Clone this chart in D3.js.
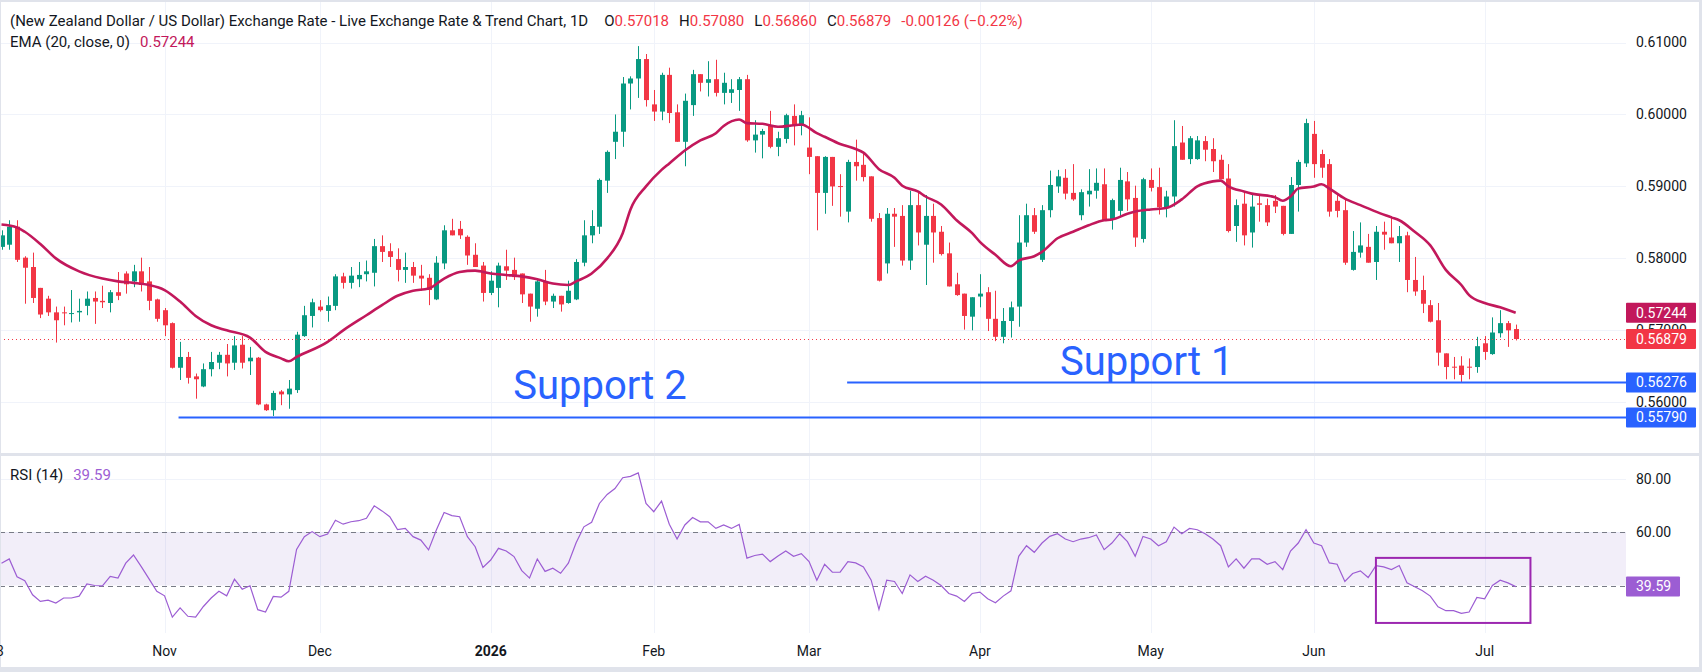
<!DOCTYPE html>
<html>
<head>
<meta charset="utf-8">
<script src="https://cdn.jsdelivr.net/npm/d3@7"></script>
<style>
  body { margin: 0; background: #fff; }
  svg { display: block; font-family: Roboto, "Noto Sans", sans-serif; }
</style>
</head>
<body>
<svg width="1702" height="672"></svg>
<script>
// NZD/USD daily candles, Oct 3 2025 .. Jul 7 2026
var open = [
  0.5816,0.5819,0.5844,0.5801,0.5788,0.5759,0.5744,0.5725,0.5725,0.5723,
  0.5725,0.5734,0.5745,0.5741,0.5738,0.5753,0.5779,0.5768,0.5782,0.5768,
  0.5743,0.5728,0.5710,0.5648,0.5663,0.5636,0.5622,0.5646,0.5655,0.5666,
  0.5655,0.5680,0.5657,0.5662,0.5597,0.5589,0.5615,0.5611,0.5617,0.5692,
  0.5720,0.5733,0.5727,0.5734,0.5775,0.5766,0.5771,0.5778,0.5780,0.5817,
  0.5810,0.5799,0.5784,0.5788,0.5776,0.5773,0.5743,0.5793,0.5839,0.5841,
  0.5830,0.5805,0.5790,0.5752,0.5759,0.5789,0.5784,0.5779,0.5751,0.5730,
  0.5768,0.5740,0.5748,0.5738,0.5743,0.5794,0.5832,0.5844,0.5908,0.5962,
  0.5976,0.6043,0.6050,0.6077,0.6014,0.6004,0.6055,0.6003,0.5962,0.6013,
  0.6056,0.6044,0.6049,0.6030,0.6030,0.6034,0.6049,0.5964,0.5972,0.5984,
  0.5955,0.5966,0.5998,0.5984,0.5954,0.5942,0.5891,0.5941,0.59005,0.5865,
  0.5934,0.5930,0.5914,0.5856,0.5793,0.5862,0.5859,0.5797,0.5874,0.5819,
  0.5859,0.5837,0.5807,0.5764,0.5751,0.5719,0.5747,0.5753,0.5716,0.5691,
  0.5713,0.5733,0.5822,0.5860,0.5798,0.5867,0.5900,0.5912,0.5891,0.5860,
  0.5889,0.5894,0.5903,0.5854,0.5866,0.5907,0.5884,0.5827,0.5909,0.5899,
  0.5870,0.5886,0.5961,0.5938,0.5938,0.5963,0.5952,0.5937,0.5911,0.5845,
  0.5876,0.5836,0.58765,0.5874,0.5880,0.5873,0.5834,0.5902,0.5932,0.5973,
  0.5945,0.5931,0.5880,0.5867,0.5784,0.5808,0.5816,0.5795,0.5837,0.5829,
  0.5821,0.5832,0.5770,0.5756,0.5735,0.5714,0.5668,0.56495,0.5651,0.56495,
  0.5649,0.5682,0.5667,0.5696,0.5710,0.57018
];
var high = [
  0.5839,0.5853,0.5853,0.5803,0.5808,0.5759,0.5748,0.5733,0.5733,0.5756,
  0.5744,0.5754,0.5754,0.5762,0.5756,0.5781,0.5782,0.5791,0.5801,0.5788,
  0.5744,0.5731,0.5711,0.5684,0.5670,0.5640,0.5654,0.5670,0.5670,0.5681,
  0.5692,0.5692,0.5677,0.5663,0.5598,0.5616,0.5617,0.5631,0.5698,0.5734,
  0.5744,0.5742,0.5747,0.5778,0.5780,0.5788,0.5795,0.5797,0.5827,0.5832,
  0.5821,0.5814,0.5808,0.5795,0.5791,0.5778,0.5803,0.5846,0.5855,0.5852,
  0.5832,0.5821,0.5795,0.5782,0.5794,0.5812,0.5801,0.5779,0.5751,0.5771,
  0.5784,0.5751,0.5748,0.5769,0.5799,0.5853,0.5867,0.5911,0.5950,0.6000,
  0.6052,0.6053,0.6095,0.6084,0.6034,0.6058,0.6065,0.6014,0.6029,0.6062,
  0.6056,0.6074,0.6076,0.6058,0.6049,0.6052,0.6055,0.5992,0.5980,0.6005,
  0.5976,0.6001,0.6014,0.6005,0.5996,0.5942,0.5942,0.5941,0.5917,0.5937,
  0.5965,0.5947,0.5914,0.5863,0.5870,0.5870,0.5874,0.5894,0.5891,0.5888,
  0.5876,0.5845,0.5822,0.5780,0.5751,0.5746,0.5778,0.5760,0.5755,0.5731,
  0.5740,0.5860,0.5876,0.5870,0.5874,0.5922,0.5923,0.5924,0.5931,0.5896,
  0.5924,0.5925,0.5925,0.5883,0.5926,0.5920,0.5901,0.5912,0.5925,0.5926,
  0.5894,0.5992,0.5984,0.5970,0.5970,0.5970,0.5967,0.5944,0.5931,0.5882,
  0.5892,0.5890,0.5888,0.5883,0.5888,0.5873,0.5913,0.5937,0.5994,0.5991,
  0.5951,0.5938,0.5888,0.5883,0.5838,0.5850,0.5834,0.5845,0.5851,0.5859,
  0.5845,0.5837,0.5802,0.5776,0.5742,0.5738,0.5668,0.5663,0.5664,0.5661,
  0.5691,0.5692,0.5718,0.5728,0.5713,0.5708
];
var low = [
  0.5812,0.5812,0.5795,0.5737,0.5738,0.5717,0.5720,0.5683,0.5707,0.5711,
  0.5712,0.5721,0.5709,0.5731,0.5725,0.5742,0.5751,0.5760,0.5754,0.5728,
  0.5712,0.5692,0.5647,0.5631,0.5626,0.5605,0.5621,0.5636,0.5646,0.5636,
  0.5645,0.5647,0.5638,0.5596,0.5588,0.5581,0.5596,0.5591,0.5613,0.5691,
  0.5704,0.5726,0.5712,0.5728,0.5758,0.5758,0.5760,0.5768,0.5761,0.5795,
  0.5788,0.5768,0.5766,0.5766,0.5755,0.5735,0.5742,0.5785,0.5832,0.5827,
  0.5791,0.5788,0.5740,0.5749,0.5732,0.5770,0.5770,0.5738,0.5712,0.5719,
  0.5735,0.5731,0.5726,0.5737,0.5742,0.5789,0.5821,0.5834,0.5891,0.5938,
  0.5955,0.6007,0.6023,0.6011,0.5991,0.5992,0.5988,0.5962,0.5928,0.5998,
  0.6032,0.6025,0.6025,0.6014,0.6016,0.6005,0.5962,0.5947,0.5939,0.5953,
  0.5942,0.5960,0.5957,0.5971,0.5917,0.5839,0.5862,0.5873,0.5858,0.5850,
  0.5908,0.5907,0.5851,0.5768,0.5779,0.5816,0.5790,0.5784,0.5818,0.5763,
  0.5794,0.5804,0.5761,0.5748,0.5701,0.5700,0.5732,0.5699,0.5685,0.5682,
  0.5690,0.5705,0.5816,0.5834,0.5795,0.5857,0.5891,0.5882,0.5880,0.5853,
  0.5872,0.5883,0.5853,0.5840,0.5859,0.5866,0.5816,0.5822,0.5893,0.5861,
  0.5857,0.5872,0.5937,0.5931,0.5937,0.5935,0.5920,0.5910,0.5836,0.5823,
  0.5818,0.5815,0.5851,0.5845,0.5863,0.5832,0.5834,0.5865,0.5927,0.5912,
  0.5912,0.5858,0.5857,0.5791,0.5783,0.5801,0.5794,0.5770,0.5812,0.5821,
  0.5795,0.5753,0.5748,0.5724,0.5711,0.5651,0.5632,0.5632,0.5628,0.5632,
  0.5641,0.5659,0.5666,0.5690,0.5677,0.5686
];
var close = [
  0.5832,0.5844,0.5798,0.5787,0.5745,0.5722,0.5725,0.5714,0.5724,0.5724,
  0.5727,0.5744,0.5740,0.5739,0.5753,0.5748,0.5764,0.5782,0.5763,0.5741,
  0.5716,0.5707,0.5648,0.5663,0.5634,0.5632,0.5646,0.5656,0.5666,0.5654,
  0.5679,0.5655,0.5662,0.5597,0.5589,0.5613,0.5611,0.5619,0.5694,0.5721,
  0.5739,0.5728,0.5735,0.5775,0.5766,0.5776,0.5777,0.5782,0.5817,0.5809,
  0.5802,0.5784,0.5788,0.5776,0.5772,0.5756,0.5794,0.5839,0.5832,0.5832,
  0.5804,0.5788,0.5752,0.5769,0.5790,0.5783,0.5774,0.5750,0.5733,0.5768,
  0.5740,0.5748,0.5736,0.5755,0.5795,0.5832,0.5845,0.5909,0.5948,0.5976,
  0.6043,0.6050,0.6077,0.6020,0.6004,0.6055,0.6002,0.5962,0.6019,0.6056,
  0.6044,0.6049,0.6030,0.6044,0.6035,0.6049,0.5964,0.5972,0.5977,0.5955,
  0.5967,0.5999,0.5984,0.5999,0.5941,0.5891,0.5941,0.5900,0.58995,0.5934,
  0.5928,0.5913,0.5855,0.5769,0.5862,0.5858,0.5797,0.5874,0.5836,0.5859,
  0.5836,0.5806,0.5761,0.5749,0.5720,0.5746,0.5751,0.5716,0.5691,0.5713,
  0.5732,0.5822,0.5860,0.5837,0.5867,0.5902,0.5914,0.5890,0.5882,0.5892,
  0.5894,0.5905,0.5853,0.5881,0.5909,0.5882,0.5829,0.5910,0.5898,0.5871,
  0.5886,0.5956,0.5937,0.5967,0.5964,0.5951,0.5935,0.5910,0.5838,0.5874,
  0.5832,0.5872,0.58745,0.5850,0.5872,0.5834,0.5902,0.5934,0.5988,0.5931,
  0.5926,0.5865,0.5866,0.5794,0.5809,0.5818,0.5794,0.5837,0.5833,0.5821,
  0.5831,0.5770,0.5754,0.5737,0.5712,0.5669,0.5649,0.56485,0.5638,0.56485,
  0.5678,0.5670,0.5697,0.5710,0.5700,0.56879
];

// EMA(20) read at selected bars
var emaBar = [0,2,3,5,7,10,13,15,17,19,21,23,25,27,29,32,34,36,37,38,42,44,47,49,51,53,55,57,59,61,
  63,65,67,69,71,73,74,76,78,80,81,83,85,86,88,90,92,93,95,96,98,100,102,103,105,106,108,110,111,113,
  115,116,118,119,121,123,125,126,128,130,131,133,134,136,138,140,142,143,145,146,148,150,152,154,156,157,158,160,161,164,
  165,166,167,169,170,171,173,175,177,179,180,182,184,186,188,189,191,193,195];
var emaVal = [0.5847,0.5843,0.5837,0.5820,0.5800,0.5782,0.5772,0.5768,0.5766,0.5763,0.5756,0.5740,0.5720,0.5707,0.5700,0.5690,0.5670,0.5661,0.5657,0.5663,
  0.5684,0.5700,0.5721,0.5735,0.5748,0.5755,0.5758,0.5772,0.5781,0.5783,0.5779,0.5777,0.5775,0.5771,0.5765,0.5763,0.5768,0.5779,0.5800,0.5835,
  0.5868,0.5900,0.5923,0.5932,0.5950,0.5964,0.5974,0.5984,0.5993,0.5988,0.5987,0.5983,0.5985,0.5986,0.5974,0.5969,0.5959,0.5952,0.5947,0.5924,
  0.5912,0.5901,0.5893,0.5886,0.5875,0.5853,0.5835,0.5823,0.5805,0.5789,0.5797,0.5803,0.5809,0.5828,0.5837,0.5846,0.5853,0.5854,0.5862,0.5865,
  0.5868,0.5870,0.5882,0.5900,0.5907,0.5908,0.5900,0.5893,0.5890,0.5885,0.5880,0.5886,0.5897,0.5900,0.5903,0.5897,0.5883,0.5874,0.5865,0.5857,
  0.5853,0.5837,0.5818,0.5784,0.5763,0.5749,0.5738,0.5732,0.57244];

// RSI(14), one value per bar
var rsi = [
  48.4,50.0,43.3,41.8,36.5,34.0,34.5,33.4,35.3,35.3,36.0,40.6,40.0,39.9,43.4,42.8,48.4,51.5,47.1,42.5,
  37.8,36.1,28.1,31.6,28.4,28.1,32.1,35.3,37.8,36.1,42.4,38.6,39.9,30.9,30.0,35.9,35.6,37.8,53.6,58.4,
  60.3,58.4,59.4,64.6,63.1,64.0,64.4,65.3,70.0,68.1,65.9,61.1,61.5,58.4,57.1,53.4,60.9,67.5,66.3,65.9,
  58.4,54.6,46.8,49.6,54.0,53.0,50.9,45.6,42.8,50.0,45.3,46.5,44.6,48.4,56.1,62.1,63.8,70.9,74.3,76.5,
  80.6,81.1,82.4,70.9,67.8,71.8,63.1,57.5,62.8,65.6,64.0,64.0,61.5,62.8,61.5,63.0,50.3,51.3,51.8,49.0,
  51.1,53.0,51.0,52.0,49.0,42.0,48.0,45.0,45.0,49.0,48.5,47.0,42.0,31.0,42.0,41.5,37.0,44.0,41.5,43.5,
  42.0,40.0,37.0,36.0,34.0,37.0,37.5,35.0,33.5,36.0,38.0,51.0,55.0,52.5,56.0,58.5,59.5,57.5,56.5,57.5,
  58.0,59.0,53.5,56.0,59.5,56.5,51.0,58.5,57.5,55.0,56.5,62.0,59.5,61.5,61.0,59.5,57.5,55.0,47.0,50.0,
  46.5,50.0,50.0,48.0,49.0,46.0,53.0,56.0,61.0,56.0,55.0,48.5,48.0,41.5,44.5,45.5,43.0,47.5,47.0,46.0,
  47.5,41.0,39.5,38.0,36.0,32.0,30.5,30.5,29.5,30.0,35.5,35.0,40.0,42.0,41.0,39.59
];

var monthNames = ['Jan','Feb','Mar','Apr','May','Jun','Jul','Aug','Sep','Oct','Nov','Dec'];
var priceTicks = [0.61, 0.60, 0.59, 0.58, 0.57, 0.56];
var rsiTicks = [80, 60];
var supports = [
  { price: 0.56276, from: 108.9, label: 'Support 1', labelBar: 136.3 },
  { price: 0.55790, from: 22.8, label: 'Support 2', labelBar: 65.9 }
];
var rsiBox = { from: 177, to: 196.9, top: 50.4, bottom: 25.9 };

var W = 1702, H = 672, plotR = 1626;
var green = '#089981', red = '#f23645', emaColor = '#c2185b', rsiColor = '#9c5dd3', blue = '#2962ff';

// trading days: weekdays without Dec 25 and Jan 1
var holidays = ['2025-12-25', '2026-01-01'];
var days = [];
var d = new Date(Date.UTC(2025, 9, 3));
while (days.length < close.length) {
  var iso = d.toISOString().slice(0, 10);
  if (d.getUTCDay() !== 0 && d.getUTCDay() !== 6 && holidays.indexOf(iso) === -1) days.push(new Date(d));
  d.setUTCDate(d.getUTCDate() + 1);
}
var n = close.length;

var x = d3.scaleLinear().domain([0, n - 1]).range([1.5, 1515.7]);
var y = d3.scaleLinear().domain([0.56, 0.61]).range([402.3, 42.5]);
var yr = d3.scaleLinear().domain([40, 80]).range([585.5, 479.3]);

var svg = d3.select('svg');

svg.append('rect').attr('width', W).attr('height', H).attr('fill', '#fff');
var defs = svg.append('defs');
defs.append('clipPath').attr('id', 'main').append('rect')
  .attr('x', 0).attr('y', 2).attr('width', plotR).attr('height', 451);
defs.append('clipPath').attr('id', 'low').append('rect')
  .attr('x', 0).attr('y', 456).attr('width', plotR).attr('height', 177);

// month ticks
var monthIdx = [];
for (var i = 1; i < n; i++) {
  if (days[i].getUTCMonth() !== days[i - 1].getUTCMonth()) monthIdx.push(i);
}

var grid = svg.append('g').attr('stroke', '#f0f3fa').attr('stroke-width', 1);
monthIdx.forEach(function(i) {
  var gx = Math.round(x(i)) + 0.5;
  grid.append('line').attr('x1', gx).attr('x2', gx).attr('y1', 2).attr('y2', 453);
  grid.append('line').attr('x1', gx).attr('x2', gx).attr('y1', 456).attr('y2', 633);
});
priceTicks.forEach(function(p) {
  var gy = Math.round(y(p)) + 0.5;
  grid.append('line').attr('x1', 0).attr('x2', plotR).attr('y1', gy).attr('y2', gy);
});
rsiTicks.forEach(function(r) {
  var gy = Math.round(yr(r)) + 0.5;
  grid.append('line').attr('x1', 0).attr('x2', plotR).attr('y1', gy).attr('y2', gy);
});

// candles
var main = svg.append('g').attr('clip-path', 'url(#main)');
var candles = main.selectAll('.c').data(d3.range(n)).enter().append('g');
candles.append('line')
  .attr('x1', i => Math.round(x(i)) + 0.5).attr('x2', i => Math.round(x(i)) + 0.5)
  .attr('y1', i => y(high[i])).attr('y2', i => y(low[i]))
  .attr('stroke', i => close[i] >= open[i] ? green : red);
candles.append('rect')
  .attr('x', i => Math.round(x(i)) - 2)
  .attr('width', 5)
  .attr('y', i => y(Math.max(open[i], close[i])))
  .attr('height', i => Math.max(1, Math.abs(y(open[i]) - y(close[i]))))
  .attr('fill', i => close[i] >= open[i] ? green : red);

// EMA
var emaLine = d3.line().x(k => x(emaBar[k])).y(k => y(emaVal[k])).curve(d3.curveMonotoneX);
main.append('path').attr('d', emaLine(d3.range(emaBar.length)))
  .attr('fill', 'none').attr('stroke', emaColor).attr('stroke-width', 2.6).attr('stroke-linejoin', 'round');

// last price dotted line
main.append('line').attr('x1', 0).attr('x2', plotR)
  .attr('y1', Math.round(y(close[n - 1])) + 0.5).attr('y2', Math.round(y(close[n - 1])) + 0.5)
  .attr('stroke', red).attr('stroke-dasharray', '1,3');

// supports
supports.forEach(function(s) {
  main.append('line').attr('x1', x(s.from)).attr('x2', plotR)
    .attr('y1', y(s.price)).attr('y2', y(s.price))
    .attr('stroke', blue).attr('stroke-width', 2);
});
svg.append('text').attr('x', x(supports[0].labelBar)).attr('y', 375)
  .attr('font-size', 40).attr('fill', blue).text(supports[0].label);
svg.append('text').attr('x', x(supports[1].labelBar)).attr('y', 399)
  .attr('font-size', 40).attr('fill', blue).text(supports[1].label);

// RSI pane
var low2 = svg.append('g').attr('clip-path', 'url(#low)');
low2.append('rect').attr('x', 0).attr('width', plotR)
  .attr('y', yr(60)).attr('height', yr(40) - yr(60)).attr('fill', 'rgba(126,87,194,0.1)');
[60, 40].forEach(function(r) {
  low2.append('line').attr('x1', 0).attr('x2', plotR)
    .attr('y1', Math.round(yr(r)) + 0.5).attr('y2', Math.round(yr(r)) + 0.5)
    .attr('stroke', '#787b86').attr('stroke-dasharray', '5,4');
});
var rsiLine = d3.line().x((v, i) => x(i)).y(v => yr(v));
low2.append('path').attr('d', rsiLine(rsi)).attr('fill', 'none')
  .attr('stroke', rsiColor).attr('stroke-width', 1.2);
low2.append('rect')
  .attr('x', x(rsiBox.from)).attr('width', x(rsiBox.to) - x(rsiBox.from))
  .attr('y', yr(rsiBox.top)).attr('height', yr(rsiBox.bottom) - yr(rsiBox.top))
  .attr('fill', 'none').attr('stroke', '#9c27b0').attr('stroke-width', 2);

// separators and frame
svg.append('rect').attr('x', 0).attr('y', 0).attr('width', W).attr('height', 2).attr('fill', '#e0e3eb');
svg.append('rect').attr('x', 0).attr('y', 453).attr('width', W).attr('height', 3).attr('fill', '#e0e3eb');
svg.append('rect').attr('x', 0).attr('y', 667).attr('width', W).attr('height', 5).attr('fill', '#e0e3eb');
svg.append('rect').attr('x', 1699).attr('y', 0).attr('width', 3).attr('height', H).attr('fill', '#e0e3eb');
svg.append('rect').attr('x', 0).attr('y', 0).attr('width', 1).attr('height', H).attr('fill', '#e0e3eb');

// price axis
var axis = svg.append('g').attr('font-size', 14).attr('fill', '#131722');
priceTicks.forEach(function(p) {
  axis.append('text').attr('x', 1636).attr('y', y(p)).attr('dy', '0.35em').text(d3.format('.5f')(p));
});
rsiTicks.forEach(function(r) {
  axis.append('text').attr('x', 1636).attr('y', yr(r)).attr('dy', '0.35em').text(d3.format('.2f')(r));
});

function tag(yy, w, fill, txt) {
  axis.append('rect').attr('x', 1626).attr('y', yy - 10).attr('width', w).attr('height', 20)
    .attr('rx', 1).attr('fill', fill);
  axis.append('text').attr('x', 1636).attr('y', yy).attr('dy', '0.35em').attr('fill', '#fff').text(txt);
}
tag(y(emaVal[emaVal.length - 1]), 70, emaColor, d3.format('.5f')(emaVal[emaVal.length - 1]));
tag(y(close[n - 1]), 70, red, d3.format('.5f')(close[n - 1]));
tag(y(supports[0].price), 70, blue, d3.format('.5f')(supports[0].price));
tag(y(supports[1].price), 70, blue, d3.format('.5f')(supports[1].price));
tag(yr(rsi[n - 1]), 54, rsiColor, d3.format('.2f')(rsi[n - 1]));

// time axis
var tAxis = svg.append('g').attr('font-size', 14).attr('fill', '#131722').attr('text-anchor', 'middle');
tAxis.append('text').attr('x', 0).attr('y', 656).text('3');
monthIdx.forEach(function(i) {
  var m = days[i].getUTCMonth();
  tAxis.append('text').attr('x', x(i)).attr('y', 656)
    .attr('font-weight', m === 0 ? 'bold' : null)
    .text(m === 0 ? String(days[i].getUTCFullYear()) : monthNames[m]);
});

// legends
var leg = svg.append('text').attr('x', 10).attr('y', 26).attr('font-size', 15).attr('fill', '#131722');
leg.append('tspan').text('(New Zealand Dollar / US Dollar) Exchange Rate - Live Exchange Rate & Trend Chart, 1D');
[['O', open], ['H', high], ['L', low], ['C', close]].forEach(function(p, k) {
  leg.append('tspan').attr('dx', k === 0 ? 16 : 10).text(p[0]);
  leg.append('tspan').attr('fill', red).text(d3.format('.5f')(p[1][n - 1]));
});
leg.append('tspan').attr('dx', 10).attr('fill', red).text('-0.00126 (\u22120.22%)');

var leg2 = svg.append('text').attr('x', 10).attr('y', 47).attr('font-size', 15).attr('fill', '#131722');
leg2.append('tspan').text('EMA (20, close, 0)');
leg2.append('tspan').attr('dx', 10).attr('fill', emaColor).text('0.57244');

var leg3 = svg.append('text').attr('x', 10).attr('y', 480).attr('font-size', 15).attr('fill', '#131722');
leg3.append('tspan').text('RSI (14)');
leg3.append('tspan').attr('dx', 10).attr('fill', rsiColor).text('39.59');
</script>
</body>
</html>
